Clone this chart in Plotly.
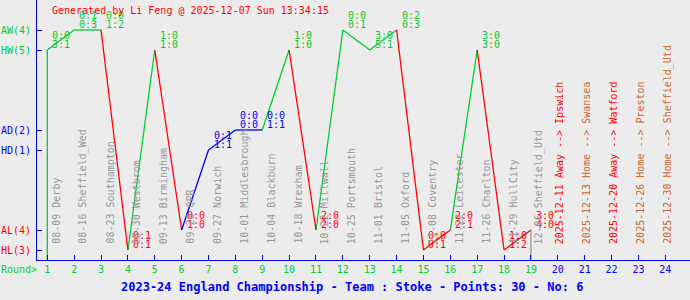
import plotly.graph_objects as go

# ---------------- data ----------------
rounds = list(range(1, 20))
results = ["HW", "AW", "AW", "HL", "HW", "AL", "HD", "AD", "AD", "HW",
           "AL", "AW", "HW", "AW", "HL", "AL", "HW", "HL", "AL"]
half_time = ["0:0", "0:1", "0:0", "0:1", "1:0", "0:0", "0:1", "0:0", "0:0", "1:0",
             "2:0", "0:0", "3:0", "0:2", "0:0", "2:0", "3:0", "1:0", "3:0"]
full_time = ["3:1", "0:3", "1:2", "0:1", "1:0", "1:0", "1:1", "0:0", "1:1", "1:0",
             "2:0", "0:1", "5:1", "0:3", "0:1", "2:1", "3:0", "1:2", "4:0"]
opponents = ["08-09 Derby", "08-16 Sheffield_Wed", "08-23 Southampton", "08-30 Westbrom",
             "09-13 Birmingham", "09-20 QPR", "09-27 Norwich", "10-01 Middlesbrough",
             "10-04 Blackburn", "10-18 Wrexham", "10-22 Millwall", "10-25 Portsmouth",
             "11-01 Bristol", "11-05 Oxford", "11-08 Coventry", "11-22 Leicester",
             "11-26 Charlton", "11-29 HullCity", "12-06 Sheffield_Utd"]
future_rounds = [20, 21, 22, 23, 24]
future_dates = ["2025-12-11", "2025-12-13", "2025-12-20", "2025-12-26", "2025-12-30"]
future_venue = ["Away", "Home", "Away", "Home", "Home"]
future_teams = ["Ipswich", "Swansea", "Watford", "Preston", "Sheffield_Utd"]

level_names = ["HL", "AL", "HD", "AD", "HW", "AW"]
level_values = [0, 1, 5, 6, 10, 11]
level_counts = [3, 4, 1, 2, 5, 4]

title_text = "2023-24 England Championship - Team : Stoke - Points: 30 - No: 6"
generated_text = "Generated by Li Feng @ 2025-12-07 Sun 13:34:15"

# ---------------- style ----------------
GREEN = "#00cc33"
RED = "#ff0000"
BLUE = "#0000ff"
GRAY = "#999999"
BROWN = "#cc6633"
BG = "#ececec"
FONT = "DejaVu Sans Mono"
Y_MIN, Y_MAX = -0.5, 12.5
X_MIN, X_MAX = 0.6167, 24.92
LEFT_MARGIN, PLOT_W = 37, 653

level_of = dict(zip(level_names, level_values))
def res_color(r):
    return {"W": GREEN, "L": RED, "D": BLUE}[r[1]]

fig = go.Figure()

# line segments grouped by colour
seg = {GREEN: ([], []), RED: ([], []), BLUE: ([], [])}
ys = [level_of[r] for r in results]
c = res_color(results[0])
seg[c][0].extend([rounds[0], rounds[0], None])
seg[c][1].extend([Y_MIN, ys[0], None])
for i in range(1, len(rounds)):
    c = res_color(results[i])
    seg[c][0].extend([rounds[i - 1], rounds[i], None])
    seg[c][1].extend([ys[i - 1], ys[i], None])
for c, (xx, yy) in seg.items():
    fig.add_trace(go.Scatter(x=xx, y=yy, mode="lines", line=dict(color=c, width=1.3),
                             hoverinfo="skip", showlegend=False))
fig.add_trace(go.Scatter(x=[rounds[-1], rounds[-1]], y=[ys[-1], Y_MIN], mode="lines",
                         line=dict(color=GRAY, width=1.3), hoverinfo="skip", showlegend=False))

annotations = []
for r, y, res, ht, ft in zip(rounds, ys, results, half_time, full_time):
    col = res_color(res)
    annotations.append(dict(x=r, y=y, xref="x", yref="y", text=ft, showarrow=False,
                            xanchor="left", yanchor="bottom", xshift=3, yshift=-2,
                            font=dict(family=FONT, size=10, color=col)))
    annotations.append(dict(x=r, y=y, xref="x", yref="y", text=ht, showarrow=False,
                            xanchor="left", yanchor="bottom", xshift=3, yshift=7,
                            font=dict(family=FONT, size=10, color=col)))
for r, t in zip(rounds, opponents):
    annotations.append(dict(x=r, y=level_values[0], xref="x", yref="y", text=t,
                            showarrow=False, textangle=-90, xanchor="center",
                            yanchor="bottom", xshift=8.5, yshift=4,
                            font=dict(family=FONT, size=10, color=GRAY)))
for r, d, v, t in zip(future_rounds, future_dates, future_venue, future_teams):
    col = RED if v == "Away" else BROWN
    annotations.append(dict(x=r, y=level_values[0], xref="x", yref="y",
                            text=f"{d} {v} --> {t}", showarrow=False, textangle=-90,
                            xanchor="center", yanchor="bottom", xshift=2, yshift=4,
                            font=dict(family=FONT, size=10, color=col)))
annotations.append(dict(x=-LEFT_MARGIN / PLOT_W, y=0, xref="paper", yref="paper", text="Round>",
                        showarrow=False, xanchor="left", yanchor="top", xshift=-1, yshift=-2,
                        font=dict(family=FONT, size=10, color=GREEN)))
annotations.append(dict(x=0.483, y=0, xref="paper", yref="paper", text=f"<b>{title_text}</b>",
                        showarrow=False, xanchor="center", yanchor="middle", yshift=-27,
                        font=dict(family=FONT, size=12, color=BLUE)))
annotations.append(dict(x=0.0199, y=1, xref="paper", yref="paper", text=generated_text,
                        showarrow=False, xanchor="left", yanchor="middle", yshift=-10,
                        font=dict(family=FONT, size=10, color=RED)))

lvl_colors = {"W": GREEN, "D": BLUE, "L": RED}
ytext = [f"<span style='color:{lvl_colors[n[1]]}'>{n}({k})</span>"
         for n, k in zip(level_names, level_counts)]
all_rounds = rounds + future_rounds
xtext = [f"<span style='color:{GREEN if r in rounds else BLUE}'>{r}</span>" for r in all_rounds]

fig.update_layout(
    width=690, height=300,
    margin=dict(l=LEFT_MARGIN, r=0, t=0, b=40),
    paper_bgcolor=BG, plot_bgcolor=BG,
    font=dict(family=FONT, size=10),
    showlegend=False,
    annotations=annotations,
    xaxis=dict(range=[X_MIN, X_MAX], tickvals=all_rounds, ticktext=xtext,
               showgrid=False, zeroline=False, showline=True, linecolor=BLUE, linewidth=1,
               ticks="inside", ticklen=5, tickcolor=BLUE, tickwidth=1,
               tickfont=dict(family=FONT, size=10), fixedrange=True),
    yaxis=dict(range=[Y_MIN, Y_MAX], tickvals=level_values, ticktext=ytext,
               showgrid=False, zeroline=False, showline=True, linecolor=BLUE, linewidth=1,
               ticks="inside", ticklen=5, tickcolor=BLUE, tickwidth=1,
               ticklabelstandoff=3,
               tickfont=dict(family=FONT, size=10), fixedrange=True),
)

fig.write_html("out.html", config={"displayModeBar": False})
